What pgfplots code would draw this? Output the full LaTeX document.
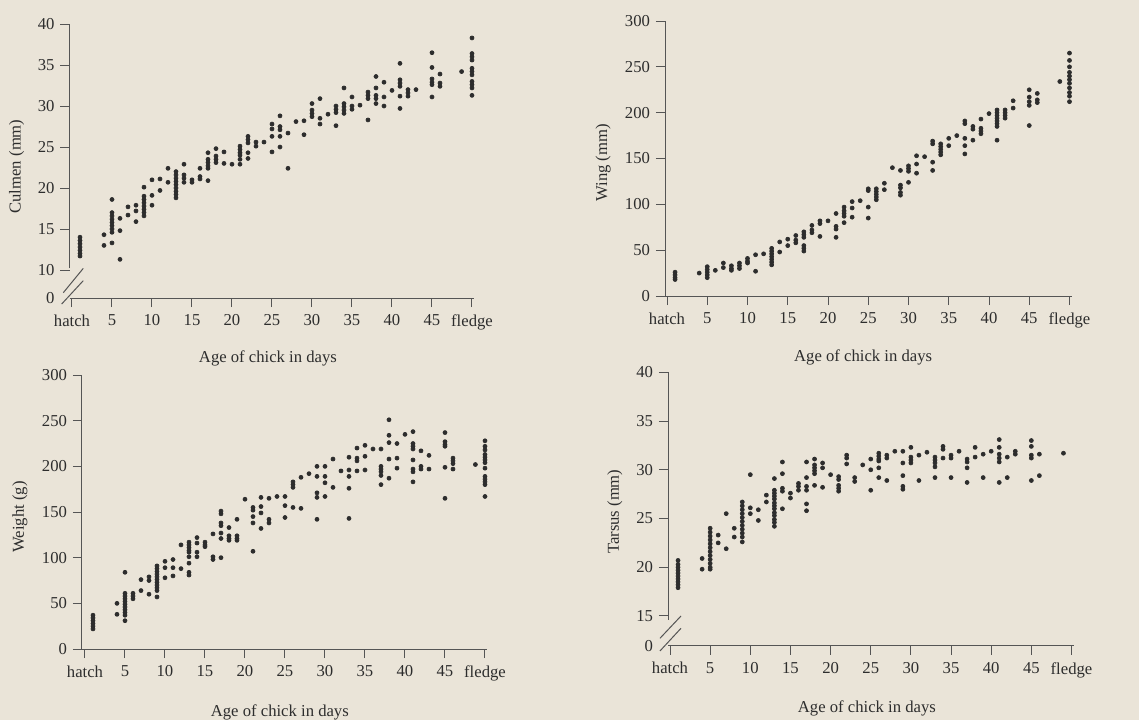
\documentclass[border=0pt]{standalone}
\usepackage{fontspec}
\setmainfont{Liberation Serif}
\usepackage{pgfplots}
\pgfplotsset{compat=1.18}
\definecolor{paper}{RGB}{234,228,216}
\definecolor{ink}{RGB}{45,45,45}
\definecolor{axisgray}{RGB}{85,85,85}
\tikzset{brk/.style={axisgray, line width=0.6pt}}
\pgfplotsset{
  panel/.style={
    scale only axis,
    anchor=south west,
    axis lines=left,
    axis line style={-, axisgray, line width=0.6pt},
    tick style={axisgray, line width=0.6pt},
    tick align=outside,
    major tick length=5.5pt,
    xmax=50.3,
    xtick={0,5,...,50},
    xticklabels={hatch,5,10,15,20,25,30,35,40,45,fledge},
    ticklabel style={font=\fontsize{10}{12}\selectfont, text=ink},
    xticklabel style={yshift=-1pt},
    label style={font=\fontsize{10}{12}\selectfont, text=ink},
    xlabel={Age of chick in days},
    clip=false,
  },
  dots/.style={only marks, mark=*, mark size=1.2pt, mark options={draw=ink, fill=ink}},
}
\begin{document}
\begin{tikzpicture}
\path[use as bounding box, fill=paper] (0,0) rectangle (683.4pt,-432pt);

% Culmen
\begin{axis}[panel, at={(41.76pt,-178.8pt)}, width=242.88pt, height=164.4pt,
  xmin=-0.3, ymin=6.585, ymax=40,
  ytick={10,15,20,25,30,35,40}, yticklabels={10,15,20,25,30,35,40},
  extra y ticks={6.585}, extra y tick labels={0}, extra y tick style={tick style={draw=none}},
  y axis line style={draw=none},
  ylabel={Culmen (mm)},
  ylabel style={at={(axis description cs:-0.131,0.48)}, anchor=center},
  xlabel style={at={(axis description cs:0.49,-0.219)}, anchor=center}]
\addplot[dots] coordinates {
(1,14.0)(1,13.6)(1,13.2)(1,12.8)(1,12.4)(1,12.0)(1,11.7)
(4,14.3)(4,13.0)
(5,18.6)(5,17.0)(5,16.6)(5,16.2)(5,15.8)(5,15.4)(5,15.0)(5,14.6)(5,13.3)
(6,16.3)(6,14.8)(6,11.3)
(7,17.7)(7,16.7)
(8,17.9)(8,17.2)(8,15.9)
(9,20.1)(9,19.0)(9,18.6)(9,18.2)(9,17.8)(9,17.4)(9,17.0)(9,16.6)
(10,21.0)(10,19.1)(10,17.9)
(11,21.1)(11,19.7)
(12,22.4)(12,20.7)
(13,22.0)(13,21.6)(13,21.2)(13,20.8)(13,20.4)(13,20.0)(13,19.6)(13,19.2)(13,18.8)
(14,22.9)(14,21.6)(14,21.2)(14,20.7)
(15,21.0)(15,20.7)
(16,22.4)(16,21.4)(16,21.1)
(17,24.3)(17,23.5)(17,23.1)(17,22.7)(17,22.4)(17,20.9)
(18,24.8)(18,23.9)(18,23.5)(18,23.1)
(19,24.4)(19,23.0)
(20,22.9)
(21,25.1)(21,24.7)(21,24.3)(21,24.0)(21,23.5)(21,22.9)
(22,26.3)(22,25.9)(22,25.5)(22,24.3)(22,23.6)
(23,25.6)(23,25.1)
(24,25.6)
(25,27.8)(25,27.2)(25,26.3)(25,24.4)
(26,28.8)(26,27.5)(26,27.1)(26,26.3)(26,25.0)
(27,26.7)(27,22.4)
(28,28.1)
(29,28.2)(29,26.5)
(30,30.3)(30,29.5)(30,29.1)(30,28.7)
(31,30.9)(31,28.5)(31,27.8)
(32,29.0)
(33,30.0)(33,29.6)(33,29.2)(33,27.6)
(34,32.2)(34,30.3)(34,29.9)(34,29.5)(34,29.1)
(35,31.1)(35,30.0)(35,29.6)
(36,30.1)
(37,31.7)(37,31.3)(37,30.9)(37,28.3)
(38,33.6)(38,32.2)(38,31.3)(38,30.9)(38,30.3)
(39,32.9)(39,31.1)(39,30.0)
(40,31.9)
(41,35.2)(41,33.2)(41,32.8)(41,32.4)(41,31.2)(41,29.7)
(42,32.0)(42,31.6)(42,31.2)
(43,32.0)
(45,36.5)(45,34.7)(45,33.3)(45,32.9)(45,32.6)(45,31.1)
(46,33.9)(46,32.8)(46,32.4)
(48.7,34.2)
(50,38.3)(50,36.4)(50,36.0)(50,35.6)(50,34.6)(50,34.2)(50,33.8)(50,33.0)(50,32.6)(50,32.2)(50,31.3)
};
\draw[brk] (axis cs:-0.3,10.2) -- (axis cs:-0.3,40);
\draw[brk] (axis cs:-1.09,7.23) -- (axis cs:1.41,10.2);
\draw[brk] (axis cs:-1.29,5.85) -- (axis cs:1.41,8.7);
\end{axis}

% Wing
\begin{axis}[panel, at={(399pt,-177.6pt)}, width=244.14pt, height=165pt,
  xmin=-0.25, ymin=0, ymax=300,
  ytick={0,50,...,300}, yticklabels={0,50,100,150,200,250,300},
  ylabel={Wing (mm)},
  ylabel style={at={(axis description cs:-0.152,0.484)}, anchor=center},
  xlabel style={at={(axis description cs:0.487,-0.225)}, anchor=center}]
\addplot[dots] coordinates {
(1,26)(1,23)(1,20)(1,18)
(4,25)
(5,32)(5,29)(5,26)(5,23)(5,20)
(6,28)
(7,36)(7,31)
(8,33)(8,30)(8,28)
(9,36)(9,33)(9,30)
(10,41)(10,38)(10,36)
(11,45)(11,27)
(12,46)
(13,52)(13,49)(13,46)(13,43)(13,40)(13,37)(13,34)
(14,59)(14,48)
(15,62)(15,55)
(16,66)(16,61)(16,58)
(17,70)(17,67)(17,64)(17,55)(17,52)(17,49)
(18,77)(18,72)(18,69)
(19,82)(19,79)(19,65)
(20,82)
(21,90)(21,76)(21,73)(21,64)
(22,97)(22,93)(22,90)(22,87)(22,80)
(23,103)(23,96)(23,86)
(24,104)
(25,117)(25,115)(25,97)(25,85)
(26,117)(26,114)(26,111)(26,108)(26,105)
(27,123)(27,116)
(28,140)
(29,137)(29,121)(29,118)(29,113)(29,110)
(30,142)(30,139)(30,136)(30,124)
(31,153)(31,144)(31,134)
(32,152)
(33,169)(33,166)(33,146)(33,137)
(34,166)(34,163)(34,160)(34,157)(34,154)
(35,172)(35,164)
(36,175)
(37,191)(37,188)(37,172)(37,164)(37,155)
(38,185)(38,182)(38,170)
(39,193)(39,183)(39,180)(39,177)
(40,199)
(41,203)(41,200)(41,197)(41,194)(41,191)(41,188)(41,185)(41,170)
(42,203)(42,200)(42,197)(42,194)
(43,213)(43,205)
(45,225)(45,217)(45,212)(45,208)(45,186)
(46,221)(46,214)(46,211)
(48.8,234)
(50,265)(50,257)(50,250)(50,244)(50,240)(50,236)(50,232)(50,227)(50,222)(50,218)(50,212)
};
\end{axis}

% Weight
\begin{axis}[panel, at={(49.2pt,-389.4pt)}, width=243.24pt, height=164.4pt,
  xmin=-0.375, ymin=0, ymax=300,
  ytick={0,50,...,300}, yticklabels={0,50,100,150,200,250,300},
  ylabel={Weight (g)},
  ylabel style={at={(axis description cs:-0.153,0.482)}, anchor=center},
  xlabel style={at={(axis description cs:0.488,-0.230)}, anchor=center}]
\addplot[dots] coordinates {
(1,37)(1,34)(1,31)(1,28)(1,25)(1,22)
(4,50)(4,38)
(5,84)(5,61)(5,58)(5,55)(5,52)(5,49)(5,46)(5,43)(5,40)(5,37)(5,31)
(6,61)(6,58)(6,55)
(7,76)(7,64)
(8,79)(8,75)(8,60)
(9,91)(9,88)(9,85)(9,82)(9,79)(9,76)(9,73)(9,70)(9,67)(9,64)(9,57)
(10,96)(10,89)(10,78)
(11,98)(11,89)(11,80)
(12,114)(12,88)
(13,117)(13,114)(13,111)(13,108)(13,106)(13,101)(13,94)(13,84)(13,81)
(14,122)(14,116)(14,106)(14,101)
(15,117)(15,114)(15,112)
(16,126)(16,101)(16,98)
(17,151)(17,148)(17,138)(17,135)(17,127)(17,121)(17,100)
(18,133)(18,124)(18,121)(18,119)
(19,142)(19,124)(19,121)(19,119)
(20,164)
(21,155)(21,152)(21,145)(21,138)(21,107)
(22,166)(22,156)(22,149)(22,132)
(23,165)(23,142)(23,138)
(24,167)
(25,167)(25,157)(25,144)
(26,183)(26,180)(26,177)(26,155)
(27,188)(27,154)
(28,192)
(29,200)(29,189)(29,171)(29,166)(29,142)
(30,200)(30,189)(30,182)(30,167)
(31,208)(31,177)
(32,195)
(33,210)(33,196)(33,189)(33,176)(33,143)
(34,220)(34,209)(34,206)(34,195)
(35,223)(35,211)(35,196)
(36,219)
(37,219)(37,200)(37,197)(37,194)(37,190)(37,180)
(38,251)(38,234)(38,226)(38,208)(38,187)
(39,225)(39,209)(39,198)
(40,235)
(41,238)(41,225)(41,222)(41,219)(41,207)(41,197)(41,194)(41,183)
(42,217)(42,200)(42,197)
(43,212)(43,197)
(45,237)(45,227)(45,224)(45,222)(45,199)(45,165)
(46,209)(46,206)(46,203)(46,197)
(48.8,202)
(50,228)(50,222)(50,218)(50,213)(50,210)(50,207)(50,204)(50,198)(50,189)(50,186)(50,183)(50,180)(50,167)
};
\end{axis}

% Tarsus
\begin{axis}[panel, at={(400.8pt,-387.42pt)}, width=243.54pt, height=164.04pt,
  xmin=-0.25, ymin=11.95, ymax=40,
  ytick={15,20,25,30,35,40}, yticklabels={15,20,25,30,35,40},
  extra y ticks={11.95}, extra y tick labels={0}, extra y tick style={tick style={draw=none}},
  y axis line style={draw=none},
  ylabel={Tarsus (mm)},
  ylabel style={at={(axis description cs:-0.131,0.49)}, anchor=center},
  xlabel style={at={(axis description cs:0.49,-0.228)}, anchor=center}]
\addplot[dots] coordinates {
(1,20.7)(1,20.3)(1,20.0)(1,19.7)(1,19.4)(1,19.1)(1,18.8)(1,18.5)(1,18.2)(1,17.9)
(4,20.9)(4,19.8)
(5,24.0)(5,23.6)(5,23.2)(5,22.8)(5,22.4)(5,22.0)(5,21.6)(5,21.2)(5,20.8)(5,20.4)(5,20.0)(5,19.8)
(6,23.3)(6,22.5)
(7,25.5)(7,21.9)
(8,24.0)(8,23.1)
(9,26.7)(9,26.3)(9,25.9)(9,25.5)(9,25.1)(9,24.7)(9,24.3)(9,23.9)(9,23.5)(9,23.1)(9,22.6)
(10,29.5)(10,26.1)(10,25.5)
(11,25.9)(11,24.8)
(12,27.4)(12,26.7)
(13,29.1)(13,27.9)(13,27.6)(13,27.3)(13,27.0)(13,26.6)(13,26.3)(13,26.0)(13,25.6)(13,25.3)(13,24.9)(13,24.6)(13,24.2)
(14,30.8)(14,29.6)(14,28.1)(14,27.8)(14,26.0)
(15,27.6)(15,27.1)
(16,28.6)(16,28.3)(16,27.9)
(17,30.8)(17,29.2)(17,28.3)(17,27.9)(17,26.5)(17,25.8)
(18,31.1)(18,30.5)(18,30.2)(18,29.9)(18,29.6)(18,28.4)
(19,30.7)(19,30.2)(19,28.2)
(20,29.5)
(21,29.3)(21,29.0)(21,28.4)(21,28.1)(21,27.8)
(22,31.5)(22,31.2)(22,30.6)
(23,29.2)(23,28.8)
(24,30.5)
(25,31.1)(25,30.0)(25,27.9)
(26,31.7)(26,31.4)(26,31.1)(26,30.9)(26,30.2)(26,29.2)
(27,31.5)(27,31.2)(27,28.9)
(28,31.9)
(29,31.9)(29,30.7)(29,29.4)(29,28.3)(29,28.0)
(30,32.3)(30,31.3)(30,31.0)(30,30.7)
(31,31.5)(31,28.9)
(32,31.8)
(33,31.3)(33,31.0)(33,30.7)(33,30.3)(33,29.2)
(34,32.4)(34,32.1)(34,31.2)
(35,31.5)(35,31.2)(35,29.2)
(36,31.9)
(37,31.1)(37,30.8)(37,30.2)(37,28.7)
(38,32.3)(38,31.3)
(39,31.6)(39,29.2)
(40,31.9)
(41,33.1)(41,32.3)(41,31.6)(41,31.2)(41,30.8)(41,28.7)
(42,31.3)(42,29.2)
(43,31.9)(43,31.6)
(45,33.0)(45,32.4)(45,31.5)(45,31.2)(45,28.9)
(46,31.6)(46,29.4)
(49,31.7)
};
\draw[brk] (axis cs:-0.25,14.6) -- (axis cs:-0.25,40);
\draw[brk] (axis cs:-1.25,12.71) -- (axis cs:1.37,15.0);
\draw[brk] (axis cs:-1.25,11.41) -- (axis cs:1.37,13.74);
\end{axis}
\end{tikzpicture}
\end{document}
